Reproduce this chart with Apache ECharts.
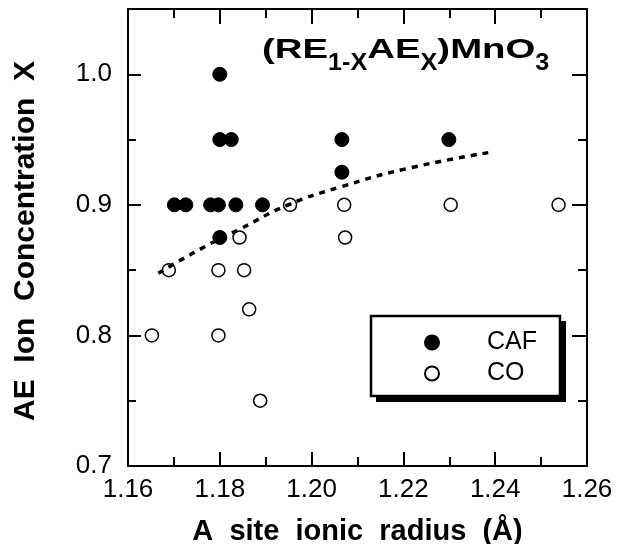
<!DOCTYPE html>
<html>
<head>
<meta charset="utf-8">
<script src="https://cdn.jsdelivr.net/npm/echarts@6/dist/echarts.min.js"></script>
<style>html,body{margin:0;padding:0;background:#fff}#c{width:620px;height:544px}</style>
</head>
<body>
<div id="c"></div>
<script>
// ---- data ----
const cafX = [1.1800, 1.1800, 1.1825, 1.2066, 1.2299, 1.2066, 1.1701, 1.1726, 1.1780, 1.1797, 1.1835, 1.1893, 1.1800];
const cafY = [1.000, 0.950, 0.950, 0.950, 0.950, 0.925, 0.900, 0.900, 0.900, 0.900, 0.900, 0.900, 0.875];
const coX = [1.1953, 1.2071, 1.2303, 1.2538, 1.1843, 1.2073, 1.1689, 1.1797, 1.1853, 1.1864, 1.1652, 1.1797, 1.1888];
const coY = [0.900, 0.900, 0.900, 0.900, 0.875, 0.875, 0.850, 0.850, 0.850, 0.820, 0.800, 0.800, 0.750];
const fitX = [1.1666, 1.1771, 1.1844, 1.1949, 1.2062, 1.2207, 1.2385];
const fitY = [0.8477, 0.8687, 0.8815, 0.9000, 0.9136, 0.9277, 0.9400];
const xTickLabels = ['1.16', '1.18', '1.20', '1.22', '1.24', '1.26'];
const yTickLabels = ['0.7', '0.8', '0.9', '1.0'];
const seriesNames = ['CAF', 'CO'];
const titleParts = [
  {text: '(RE', sub: false}, {text: '1-X', sub: true}, {text: 'AE', sub: false},
  {text: 'X', sub: true}, {text: ')MnO', sub: false}, {text: '3', sub: true}
];

const FONT = 'Liberation Sans';
const zip = (a, b) => a.map((v, i) => [v, b[i]]);
const xMin = parseFloat(xTickLabels[0]), xMax = parseFloat(xTickLabels[xTickLabels.length - 1]);
const yMin = parseFloat(yTickLabels[0]), yMax = 1.05;

// title layout: measure pieces (main font is drawn horizontally widened)
const MAIN = {size: 28, scale: 1.37, y: 50}, SUB = {size: 24, scale: 1.05, y: 63};
const mctx = document.createElement('canvas').getContext('2d');
let tx = 262;
const titleEls = titleParts.map(p => {
  const f = p.sub ? SUB : MAIN;
  mctx.font = 'bold ' + f.size + 'px "' + FONT + '"';
  const w = mctx.measureText(p.text).width * f.scale;
  const el = {
    type: 'text', x: tx, y: f.y, scaleX: f.scale, scaleY: 1, z: 10,
    style: {text: p.text, fontFamily: FONT, fontWeight: 'bold', fontSize: f.size, fill: '#000',
      align: 'left', verticalAlign: 'middle'}
  };
  tx += w;
  return el;
});

const chart = echarts.init(document.getElementById('c'), null, {renderer: 'canvas'});
const lineStyle = {color: '#000', width: 2};
const baseX = {type: 'value', min: xMin, max: xMax, interval: 0.02, splitLine: {show: false}};
const baseY = {type: 'value', min: yMin, max: yMax, splitLine: {show: false}};

chart.setOption({
  animation: false,
  backgroundColor: '#fff',
  grid: {left: 128, right: 33, top: 9, bottom: 78, containLabel: false, outerBoundsMode: 'none'},
  xAxis: [
    Object.assign({}, baseX, {
      position: 'bottom',
      name: 'A  site  ionic  radius  (Å)', nameLocation: 'middle', nameGap: 51,
      nameTextStyle: {fontFamily: FONT, fontWeight: 'bold', fontSize: 29, color: '#000'},
      axisLine: {show: true, lineStyle: lineStyle},
      axisTick: {show: true, inside: true, length: 14, lineStyle: lineStyle},
      minorTick: {show: true, splitNumber: 2, length: 9, lineStyle: lineStyle},
      axisLabel: {margin: 11, fontFamily: FONT, fontSize: 26, color: '#000',
        formatter: v => xTickLabels.find(t => Math.abs(parseFloat(t) - v) < 1e-6) || ''}
    }),
    Object.assign({}, baseX, {
      position: 'top',
      axisLine: {show: true, lineStyle: lineStyle},
      axisTick: {show: true, inside: true, length: 15, lineStyle: lineStyle},
      minorTick: {show: true, splitNumber: 2, length: 9, lineStyle: lineStyle},
      axisLabel: {show: false}
    })
  ],
  yAxis: [
    Object.assign({}, baseY, {
      position: 'left', interval: 0.1,
      name: 'AE  Ion  Concentration  X', nameLocation: 'middle', nameGap: 87,
      nameTextStyle: {fontFamily: FONT, fontWeight: 'bold', fontSize: 30, color: '#000', padding: [0, 7, 0, 0]},
      axisLine: {show: true, lineStyle: lineStyle},
      axisTick: {show: true, inside: true, length: 13, lineStyle: lineStyle},
      axisLabel: {margin: 16, fontFamily: FONT, fontSize: 26, color: '#000', showMaxLabel: false,
        formatter: v => yTickLabels.find(t => Math.abs(parseFloat(t) - v) < 1e-6) || ''}
    }),
    Object.assign({}, baseY, {
      position: 'left', interval: 0.05,
      axisLine: {show: false},
      axisTick: {show: true, inside: true, length: 8, lineStyle: lineStyle},
      axisLabel: {show: false}
    }),
    Object.assign({}, baseY, {
      position: 'right', interval: 0.1,
      axisLine: {show: true, lineStyle: lineStyle},
      axisTick: {show: true, inside: true, length: 15, lineStyle: lineStyle},
      axisLabel: {show: false}
    }),
    Object.assign({}, baseY, {
      position: 'right', interval: 0.05,
      axisLine: {show: false},
      axisTick: {show: true, inside: true, length: 9, lineStyle: lineStyle},
      axisLabel: {show: false}
    })
  ],
  legend: {
    orient: 'vertical', left: 424, top: 330,
    data: seriesNames,
    padding: 0, itemWidth: 14, itemHeight: 14, itemGap: 6,
    textStyle: {fontFamily: FONT, fontSize: 25, color: '#000', padding: [0, 0, 0, 43]}
  },
  graphic: [
    {type: 'rect', z: 1, shape: {x: 376, y: 321, width: 190, height: 81}, style: {fill: '#000'}},
    {type: 'rect', z: 2, shape: {x: 371, y: 316, width: 189, height: 80},
      style: {fill: '#fff', stroke: '#000', lineWidth: 2.5}}
  ].concat(titleEls),
  series: [
    {name: seriesNames[0], type: 'scatter', xAxisIndex: 0, yAxisIndex: 0, symbol: 'circle', symbolSize: 14,
      itemStyle: {color: '#000', borderColor: '#000', borderWidth: 1, opacity: 1}, data: zip(cafX, cafY)},
    {name: seriesNames[1], type: 'scatter', xAxisIndex: 0, yAxisIndex: 0, symbol: 'circle', symbolSize: 13,
      itemStyle: {color: '#fff', borderColor: '#000', borderWidth: 1.5, opacity: 1}, data: zip(coX, coY)},
    {name: 'fit', type: 'line', xAxisIndex: 0, yAxisIndex: 0, smooth: true, showSymbol: false, symbol: 'none',
      lineStyle: {color: '#000', width: 3.5, type: [6, 6]}, data: zip(fitX, fitY), z: 5}
  ]
});
</script>
</body>
</html>
